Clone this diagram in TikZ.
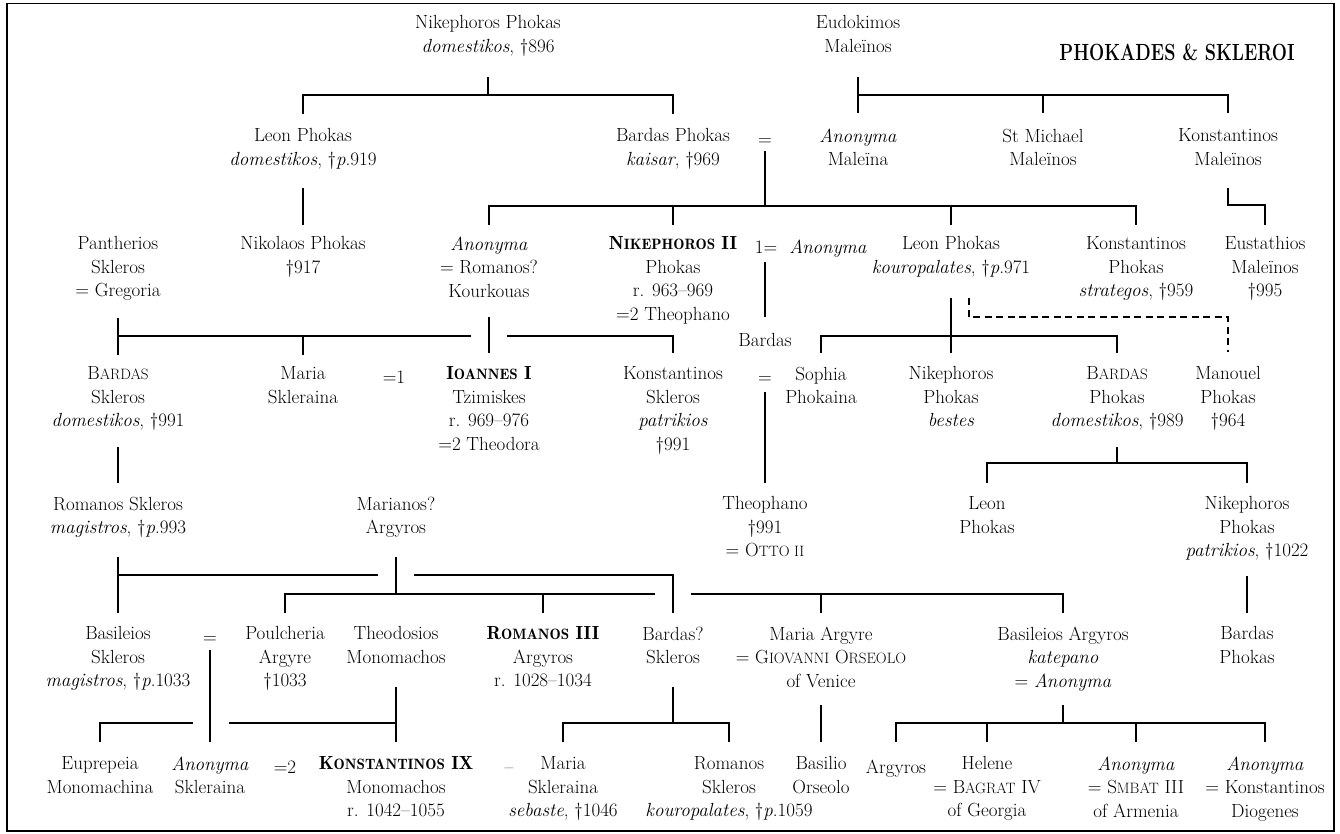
\documentclass[tikz,border=0pt]{standalone}
\usetikzlibrary{calc}
% reduced capitals for small-caps names
\newcommand\smc[1]{{\fontsize{15}{23.5}\selectfont #1}}
% demi-bold for reigning emperors
\newcommand\emp[1]{{\fontseries{b}\selectfont #1}}
\tikzset{
  person/.style={align=center, anchor=north, inner sep=0pt, yshift=16.45pt,
    font=\fontsize{19}{23.5}\selectfont, execute at begin node=\strut},
  heading/.style={anchor=base, inner sep=0pt, font=\fontsize{18}{22}\selectfont\bfseries},
  link/.style={line width=1.7pt},
  doubtful/.style={line width=1.7pt, dash pattern=on 7pt off 4.5pt},
  frame/.style={line width=1.8pt},
}
\begin{document}
\begin{tikzpicture}[x=1pt,y=-1pt]
\useasboundingbox (0,0) rectangle (1340,834);
\draw[frame] (7,3.5) rectangle (1334,831);

\node[heading] (title) at (1177,61) {\scalebox{1}[1.3]{PHOKADES \& SKLEROI}};

% first generation
\node[person] (nikA) at (488,32) {Nikephoros Phokas\\\textit{domestikos}, †896};
\node[person] (eudo) at (858,32) {Eudokimos\\Maleïnos};

% second generation
\node[person] (leonA) at (303,145) {Leon Phokas\\\textit{domestikos}, †\textit{p}.919};
\node[person] (bardasA) at (673,145) {Bardas Phokas\\\textit{kaisar}, †969};
\node[person] (eqBA) at (765,145) {=};
\node[person] (anonM) at (858,145) {\textit{Anonyma}\\Maleïna};
\node[person] (michael) at (1043,145) {St Michael\\Maleïnos};
\node[person] (konM) at (1228,145) {Konstantinos\\Maleïnos};

% third generation
\node[person] (panth) at (118,253) {Pantherios\\Skleros\\= Gregoria};
\node[person] (nikol) at (303,253) {Nikolaos Phokas\\†917};
\node[person] (anonR) at (489,253) {\textit{Anonyma}\\= Romanos?\\Kourkouas};
\node[person] (nik2) at (673,253) {\emp{N\smc{IKEPHOROS} II}\\Phokas\\r. 963–969\\=2 Theophano};
\node[person] (eq1) at (766,253) {1=};
\node[person] (anonN) at (828,253) {\textit{Anonyma}};
\node[person] (leonK) at (951,253) {Leon Phokas\\\textit{kouropalates}, †\textit{p}.971};
\node[person] (konP) at (1136,253) {Konstantinos\\Phokas\\\textit{strategos}, †959};
\node[person] (eust) at (1265,253) {Eustathios\\Maleïnos\\†995};
\node[person] (bardasN) at (765,346) {Bardas};

% fourth generation
\node[person] (bardasS) at (118,383) {B\smc{ARDAS}\\Skleros\\\textit{domestikos}, †991};
\node[person] (mariaS) at (303,383) {Maria\\Skleraina};
\node[person] (eq1b) at (394,383) {=1};
\node[person] (ioan) at (489,383) {\emp{I\smc{OANNES} I}\\Tzimiskes\\r. 969–976\\=2 Theodora};
\node[person] (konS) at (673,383) {Konstantinos\\Skleros\\\textit{patrikios}\\†991};
\node[person] (eqS) at (765,383) {=};
\node[person] (sophia) at (821,383) {Sophia\\Phokaina};
\node[person] (nikB) at (951,383) {Nikephoros\\Phokas\\\textit{bestes}};
\node[person] (bardasP) at (1117,383) {B\smc{ARDAS}\\Phokas\\\textit{domestikos}, †989};
\node[person] (manouel) at (1228,383) {Manouel\\Phokas\\†964};

% fifth generation
\node[person] (romS) at (118,513) {Romanos Skleros\\\textit{magistros}, †\textit{p}.993};
\node[person] (marianos) at (396,513) {Marianos?\\Argyros};
\node[person] (theoph) at (765,513) {Theophano\\†991\\= O\smc{TTO II}};
\node[person] (leonP) at (987,513) {Leon\\Phokas};
\node[person] (nikP) at (1247,513) {Nikephoros\\Phokas\\\textit{patrikios}, †1022};

% sixth generation
\node[person] (basS) at (118,643) {Basileios\\Skleros\\\textit{magistros}, †\textit{p}.1033};
\node[person] (eqB) at (210,643) {=};
\node[person] (poul) at (285,643) {Poulcheria\\Argyre\\†1033};
\node[person] (theod) at (396,643) {Theodosios\\Monomachos};
\node[person] (rom3) at (543,643) {\emp{R\smc{OMANOS} III}\\Argyros\\r. 1028–1034};
\node[person] (bardasQ) at (673,643) {Bardas?\\Skleros};
\node[person] (mariaA) at (821,643) {Maria Argyre\\= G\smc{IOVANNI} O\smc{RSEOLO}\\of Venice};
\node[person] (basA) at (1063,643) {Basileios Argyros\\\textit{katepano}\\= \textit{Anonyma}};
\node[person] (bardasPh) at (1247,643) {Bardas\\Phokas};

% seventh generation
\node[person] (eupr) at (100,773) {Euprepeia\\Monomachina};
\node[person] (anonS) at (210,773) {\textit{Anonyma}\\Skleraina};
\node[person] (eq2) at (285,773) {=2};
\node[person] (kon9) at (396,773) {\emp{K\smc{ONSTANTINOS} IX}\\Monomachos\\r. 1042–1055};
\node[person] (liaison) at (509,773) {–};
\node[person] (mariaSk) at (563,773) {Maria\\Skleraina\\\textit{sebaste}, †1046};
\node[person] (romSk) at (729,773) {Romanos\\Skleros\\\textit{kouropalates}, †\textit{p}.1059};
\node[person] (basO) at (821,773) {Basilio\\Orseolo};
\node[person] (argy) at (896,773) {Argyros};
\node[person] (helene) at (987,773) {Helene\\= B\smc{AGRAT} IV\\of Georgia};
\node[person] (anonSm) at (1136,773) {\textit{Anonyma}\\= S\smc{MBAT} III\\of Armenia};
\node[person] (anonD) at (1265,773) {\textit{Anonyma}\\= Konstantinos\\Diogenes};

% descent lines, generation 1 to 2
\draw[link] (nikA |- 0,77) -- (nikA |- 0,95);
\draw[link] (leonA |- 0,114) |- (bardasA |- 0,95) -- (bardasA |- 0,114);
\draw[link] (eudo |- 0,77) -- (anonM |- 0,113);
\draw[link] (eudo |- 0,95) -| (konM |- 0,113);
\draw[link] (michael |- 0,95) -- (michael |- 0,113);

% generation 2 to 3
\draw[link] (eqBA |- 0,151) -- (eqBA |- 0,206);
\draw[link] (anonR |- 0,225) |- (konP |- 0,206) -- (konP |- 0,225);
\draw[link] (nik2 |- 0,206) -- (nik2 |- 0,225);
\draw[link] (leonK |- 0,206) -- (leonK |- 0,225);
\draw[link] (leonA |- 0,188) -- (nikol |- 0,225);
\draw[link] (konM |- 0,188) |- (eust |- 0,205) -- (eust |- 0,225);

% generation 3 to 4
\draw[link] (panth |- 0,318) -- (bardasS |- 0,355);
\draw[link] (panth |- 0,336) -- (471,336);
\draw[link] (507,336) -| (konS |- 0,353);
\draw[link] (mariaS |- 0,336) -- (mariaS |- 0,355);
\draw[link] (anonR |- 0,317) -- (ioan |- 0,353);
\draw[link] (bardasN |- 0,262) -- (bardasN |- 0,317);
\draw[link] (leonK |- 0,298) -- (nikB |- 0,353);
\draw[link] (sophia |- 0,353) |- (bardasP |- 0,336) -- (bardasP |- 0,353);
\draw[doubtful] (969,298) |- (manouel |- 0,317) -- (manouel |- 0,352);

% generation 4 to 5
\draw[link] (eqS |- 0,392) -- (theoph |- 0,483);
\draw[link] (bardasS |- 0,447) -- (romS |- 0,483);
\draw[link] (bardasP |- 0,447) -- (bardasP |- 0,463);
\draw[link] (leonP |- 0,483) |- (nikP |- 0,463) -- (nikP |- 0,483);

% generation 5 to 6
\draw[link] (romS |- 0,557) -- (basS |- 0,613);
\draw[link] (romS |- 0,575) -- (378,575);
\draw[link] (414,575) -| (bardasQ |- 0,613);
\draw[link] (marianos |- 0,557) -- (marianos |- 0,594);
\draw[link] (poul |- 0,613) |- (655,594);
\draw[link] (691,594) -| (basA |- 0,613);
\draw[link] (rom3 |- 0,594) -- (rom3 |- 0,613);
\draw[link] (mariaA |- 0,594) -- (mariaA |- 0,613);
\draw[link] (nikP |- 0,576) -- (bardasPh |- 0,613);

% generation 6 to 7
\draw[link] (eqB |- 0,650) -- (anonS |- 0,742);
\draw[link] (theod |- 0,687) -- (kon9 |- 0,742);
\draw[link] (theod |- 0,723) -- (229,723);
\draw[link] (193,723) -| (eupr |- 0,742);
\draw[link] (bardasQ |- 0,687) -- (bardasQ |- 0,723);
\draw[link] (mariaSk |- 0,742) |- (romSk |- 0,723) -- (romSk |- 0,742);
\draw[link] (mariaA |- 0,705) -- (basO |- 0,742);
\draw[link] (basA |- 0,705) -- (basA |- 0,723);
\draw[link] (argy |- 0,742) |- (anonD |- 0,723) -- (anonD |- 0,742);
\draw[link] (helene |- 0,723) -- (helene |- 0,742);
\draw[link] (anonSm |- 0,723) -- (anonSm |- 0,742);
\end{tikzpicture}
\end{document}
